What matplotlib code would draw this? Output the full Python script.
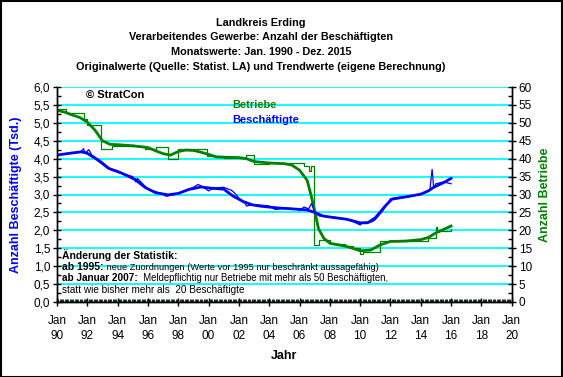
import numpy as np
import matplotlib
matplotlib.use("Agg")
import matplotlib.pyplot as plt
from matplotlib.ticker import MultipleLocator, FuncFormatter
from matplotlib.patches import Rectangle

plt.rcParams['font.family'] = ['Liberation Sans', 'DejaVu Sans']

# --- data ---
# Beschaeftigte (Tsd.), trend
besch_trend_x = [1990.0, 1990.5, 1991.0, 1991.6, 1992.0, 1992.7, 1993.4, 1994.3, 1995.15, 1995.8,
                 1996.5, 1997.35, 1998.0, 1998.7, 1999.5, 2000.3, 2001.0, 2001.6, 2002.3, 2002.9,
                 2003.5, 2004.7, 2005.5, 2006.5, 2007.0, 2007.55, 2008.2, 2009.1, 2010.0, 2010.5,
                 2011.0, 2011.3, 2011.7, 2012.1, 2013.1, 2014.0, 2014.5, 2014.85, 2015.5, 2016.0]
besch_trend_y = [4.10, 4.13, 4.16, 4.19, 4.15, 3.96, 3.73, 3.59, 3.42, 3.20,
                 3.05, 2.99, 3.03, 3.14, 3.21, 3.17, 3.15, 2.96, 2.80, 2.71,
                 2.67, 2.62, 2.60, 2.57, 2.50, 2.40, 2.36, 2.31, 2.21, 2.21,
                 2.35, 2.50, 2.70, 2.87, 2.94, 3.01, 3.10, 3.20, 3.33, 3.45]

# Beschaeftigte (Tsd.), original values
besch_orig_x = [1990.0, 1990.2, 1991.0, 1991.6, 1991.75, 1991.85, 1992.1, 1992.3, 1993.0, 1993.5,
                1994.0, 1994.5, 1995.0, 1995.2, 1995.3, 1996.0, 1996.5, 1997.0, 1997.2, 1997.5,
                1998.0, 1998.5, 1999.0, 1999.3, 1999.6, 2000.0, 2000.3, 2001.0, 2001.5, 2001.7,
                2002.0, 2002.4, 2002.5, 2003.0, 2004.0, 2004.4, 2005.0, 2005.8, 2006.0, 2006.3,
                2006.6, 2006.8, 2007.0, 2007.3, 2008.0, 2009.0, 2009.5, 2010.0, 2010.2, 2010.8,
                2011.0, 2011.5, 2012.0, 2012.5, 2013.0, 2014.0, 2014.6, 2014.75, 2014.85, 2015.0,
                2015.5, 2016.0]
besch_orig_y = [4.05, 4.12, 4.15, 4.20, 4.28, 4.15, 4.25, 4.10, 3.90, 3.72,
                3.66, 3.56, 3.50, 3.35, 3.45, 3.15, 3.08, 3.00, 2.95, 2.98,
                3.02, 3.12, 3.20, 3.28, 3.22, 3.10, 3.18, 3.20, 3.12, 3.05,
                2.90, 2.76, 2.68, 2.72, 2.68, 2.58, 2.62, 2.60, 2.55, 2.65,
                2.60, 2.75, 2.50, 2.40, 2.38, 2.32, 2.25, 2.15, 2.22, 2.24,
                2.30, 2.55, 2.88, 2.92, 2.92, 3.00, 3.12, 3.70, 3.20, 3.30,
                3.35, 3.30]

# Betriebe, trend
betr_trend_x = [1990.0, 1990.5, 1991.0, 1991.5, 1992.0, 1992.5, 1993.0, 1993.5, 1994.0, 1995.0,
                1996.0, 1996.5, 1997.0, 1997.5, 1998.0, 1998.5, 1999.0, 1999.5, 2000.0, 2000.5,
                2001.0, 2002.0, 2002.5, 2003.0, 2004.0, 2005.0, 2005.5, 2006.0, 2006.5, 2006.75,
                2007.0, 2007.25, 2007.6, 2008.0, 2009.0, 2009.5, 2010.0, 2010.7, 2011.3, 2012.0,
                2013.0, 2014.0, 2014.5, 2015.0, 2016.0]
betr_trend_y = [53.5, 53.0, 52.2, 51.5, 50.2, 48.0, 45.0, 44.0, 43.9, 43.6,
                43.1, 42.2, 41.4, 41.0, 42.0, 42.4, 42.3, 41.8, 41.2, 40.5,
                40.4, 40.3, 40.0, 39.2, 38.8, 38.6, 38.2, 36.8, 34.0, 30.0,
                25.5, 20.5, 17.8, 16.4, 15.6, 15.0, 14.3, 14.5, 15.9, 16.9,
                17.0, 17.4, 18.0, 19.3, 21.2]

# Betriebe, original values (step changes)
betr_orig_x = [1990.0, 1990.6, 1991.8, 1992.0, 1992.9, 1993.6, 1995.8, 1996.5, 1997.3, 1998.0,
               1999.9, 2001.0, 2002.5, 2003.0, 2004.0, 2006.3, 2006.6, 2006.75, 2006.93, 2007.3,
               2008.0, 2009.0, 2009.5, 2010.0, 2010.2, 2011.3, 2013.0, 2014.5, 2015.0, 2015.1,
               2015.2, 2016.0]
betr_orig_y = [54.0, 52.8, 51.2, 49.5, 42.6, 43.6, 42.6, 43.3, 39.8, 42.6,
               40.8, 40.3, 41.0, 38.5, 38.7, 38.0, 36.5, 38.0, 16.0, 17.2,
               16.3, 15.5, 15.0, 13.5, 14.0, 17.0, 17.0, 18.0, 21.0, 19.5,
               19.8, 20.5]

xtick_years = list(range(1990, 2021, 2))

titles = ['Landkreis Erding',
          'Verarbeitendes Gewerbe: Anzahl der Beschäftigten',
          'Monatswerte: Jan. 1990 - Dez. 2015',
          'Originalwerte (Quelle: Statist. LA) und Trendwerte (eigene Berechnung)']

BLUE = '#0000FF'
GREEN = '#008000'
GRAY = '#C0C0C0'

W, H = 563, 377


def px(x, y):
    # pixel position in the picture -> figure fraction
    return x / W, 1 - y / H


fig = plt.figure(figsize=(W / 100, H / 100), dpi=100)
fig.patch.set_facecolor('white')
fig.patches.append(Rectangle((0.5 / W, 0.5 / H), 1 - 1.5 / W, 1 - 1.5 / H,
                             transform=fig.transFigure, fill=False,
                             edgecolor='black', linewidth=1.5))

ax = fig.add_axes([57 / W, 1 - 302 / H, (511.7 - 57) / W, (302 - 87) / H])
ax2 = ax.twinx()

ax.set_xlim(1990, 2020)
ax.set_ylim(0, 6)
ax2.set_ylim(0, 60)

# left axis on top so the blue lines sit above the green ones
ax.set_zorder(ax2.get_zorder() + 1)
ax.patch.set_visible(False)
ax2.patch.set_facecolor(GRAY)

# grid (drawn on the back axes)
ax2.set_axisbelow(True)
ax2.grid(True, axis='y', color='#00FFFF', linewidth=1.3)
ax2.xaxis.set_major_locator(MultipleLocator(2))
ax2.grid(True, axis='x', color='#00FFFF', linewidth=1.3)

ax.set_xticks(xtick_years)
ax.set_xticklabels(['Jan\n%02d' % (y % 100) for y in xtick_years], linespacing=1.4)
ax.xaxis.set_minor_locator(MultipleLocator(1 / 12))
ax.yaxis.set_major_locator(MultipleLocator(0.5))
ax.yaxis.set_minor_locator(MultipleLocator(0.25))
ax.yaxis.set_major_formatter(FuncFormatter(lambda v, p: ('%.1f' % v).replace('.', ',')))
ax2.yaxis.set_major_locator(MultipleLocator(5))
ax2.yaxis.set_minor_locator(MultipleLocator(2.5))

ax.tick_params(axis='x', which='major', direction='inout', length=6, width=1, labelsize=8.5, pad=6)
ax.tick_params(axis='x', which='minor', direction='in', length=2, width=0.6)
ax.tick_params(axis='y', which='major', direction='inout', length=6, width=1, labelsize=8.5, pad=2)
ax.tick_params(axis='y', which='minor', direction='in', length=3, width=1)
ax2.tick_params(axis='y', which='major', direction='inout', length=6, width=1, labelsize=8.5, pad=2)
ax2.tick_params(axis='y', which='minor', direction='in', length=3, width=1)

for a in (ax, ax2):
    for s in a.spines.values():
        s.set_linewidth(1)
    a.spines['top'].set_visible(False)

# series
ax2.plot(betr_orig_x, betr_orig_y, drawstyle='steps-post', color=GREEN, lw=0.9)
ax2.plot(betr_trend_x, betr_trend_y, color=GREEN, lw=2.0)
ax.plot(besch_orig_x, besch_orig_y, color=BLUE, lw=0.9)
ax.plot(besch_trend_x, besch_trend_y, color=BLUE, lw=2.0)

# axis labels
ax.set_ylabel('Anzahl Beschäftigte (Tsd.)', color=BLUE, fontweight='bold', fontsize=9, labelpad=8)
ax2.set_ylabel('Anzahl Betriebe', color=GREEN, fontweight='bold', fontsize=9, labelpad=5)
ax.set_xlabel('Jahr', fontweight='bold', fontsize=9, labelpad=6)

# titles
for i, t in enumerate(titles):
    fig.text(261 / W, 1 - (22.5 + 14.7 * i) / H, t, ha='center', va='center',
             fontsize=7.8, fontweight='bold')

# in-plot labels
fig.text(*px(86, 95), '© StratCon', fontsize=8, fontweight='bold', va='center')
fig.text(*px(232, 105), 'Betriebe', fontsize=8, fontweight='bold', color=GREEN, va='center')
fig.text(*px(232, 120), 'Beschäftigte', fontsize=8, fontweight='bold', color=BLUE, va='center')

# note on the change of statistics
fig.text(*px(62, 255), 'Änderung der Statistik:', fontsize=7.5, fontweight='bold', va='center')
t1 = fig.text(*px(62, 267), 'ab 1995:', fontsize=7.5, fontweight='bold', va='center')
ax.annotate(' neue Zuordnungen (Werte vor 1995 nur beschränkt aussagefähig)', xy=(1, 0),
            xycoords=t1, va='bottom', fontsize=6.7, annotation_clip=False)
t2 = fig.text(*px(62, 278), 'ab Januar 2007:', fontsize=7.2, fontweight='bold', va='center')
ax.annotate('  Meldepflichtig nur Betriebe mit mehr als 50 Beschäftigten,', xy=(1, 0),
            xycoords=t2, va='bottom', fontsize=6.9, annotation_clip=False)
fig.text(*px(62, 290), 'statt wie bisher mehr als  20 Beschäftigte', fontsize=7.2, va='center')

fig.savefig('out.png', dpi=100)
